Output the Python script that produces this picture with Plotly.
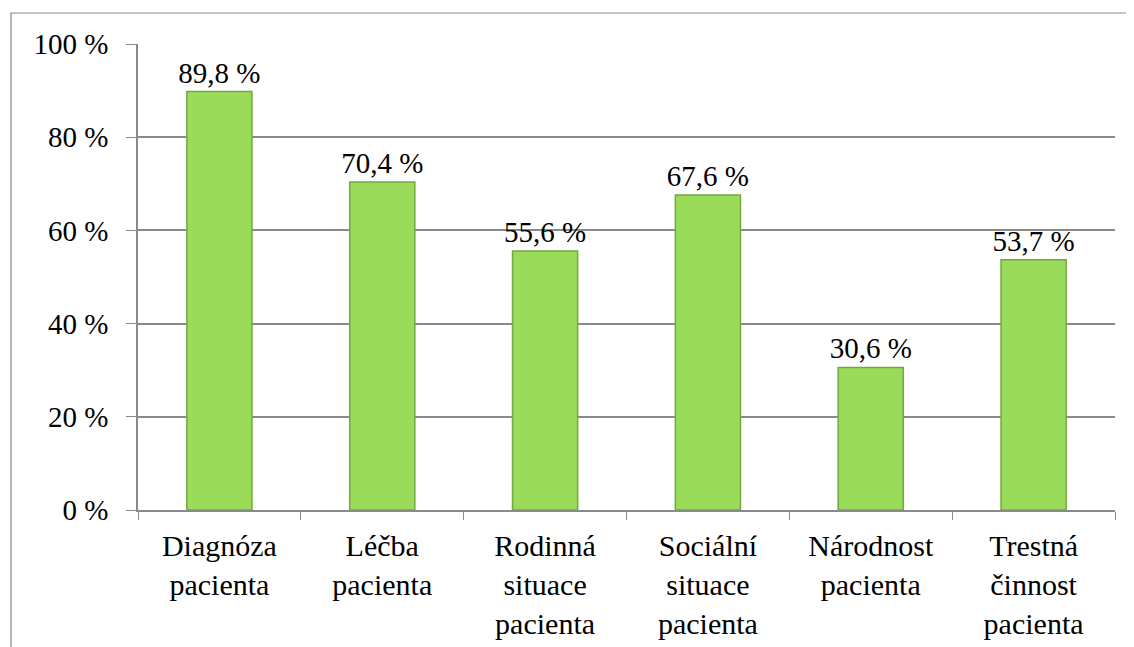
import plotly.graph_objects as go

categories = ["Diagnóza<br>pacienta", "Léčba<br>pacienta", "Rodinná<br>situace<br>pacienta",
              "Sociální<br>situace<br>pacienta", "Národnost<br>pacienta", "Trestná<br>činnost<br>pacienta"]
values = [89.8, 70.4, 55.6, 67.6, 30.6, 53.7]

font = "'Liberation Serif', 'Times New Roman', serif"
grid = "#8a8a8a"

fig = go.Figure(go.Bar(
    x=categories,
    y=values,
    width=0.4,
    marker=dict(color="#9bdb5a", line=dict(color="#74a83c", width=1.5)),
    texttemplate="%{y:.1f} %",
    textposition="outside",
    constraintext="none",
    textfont=dict(family=font, size=29, color="black"),
    cliponaxis=False,
))

# page body adds an 8px offset, so margins are shifted to compensate
fig.update_layout(
    width=1134, height=647,
    margin=dict(l=130, r=27, t=36, b=145),
    paper_bgcolor="white", plot_bgcolor="white",
    separators=", ",
    showlegend=False,
    font=dict(family=font, size=29, color="black"),
    shapes=[dict(type="rect", xref="paper", yref="paper",
                 x0=-0.13, x1=1.05, y0=-0.4, y1=1.0665,
                 line=dict(color=grid, width=1.2), layer="below")],
)
fig.update_yaxes(range=[0, 100], dtick=20, ticksuffix=" %", automargin=False,
                 showgrid=True, gridcolor=grid, gridwidth=2,
                 showline=True, linecolor=grid, linewidth=1.5,
                 ticks="outside", ticklen=10, tickcolor=grid, zeroline=False,
                 ticklabelstandoff=12)
fig.update_xaxes(showline=True, linecolor=grid, linewidth=2, automargin=False,
                 ticks="outside", ticklen=8, tickcolor=grid, tickson="boundaries",
                 tickangle=0, ticklabelstandoff=8, tickfont=dict(size=30))

fig.write_html("out.html")
